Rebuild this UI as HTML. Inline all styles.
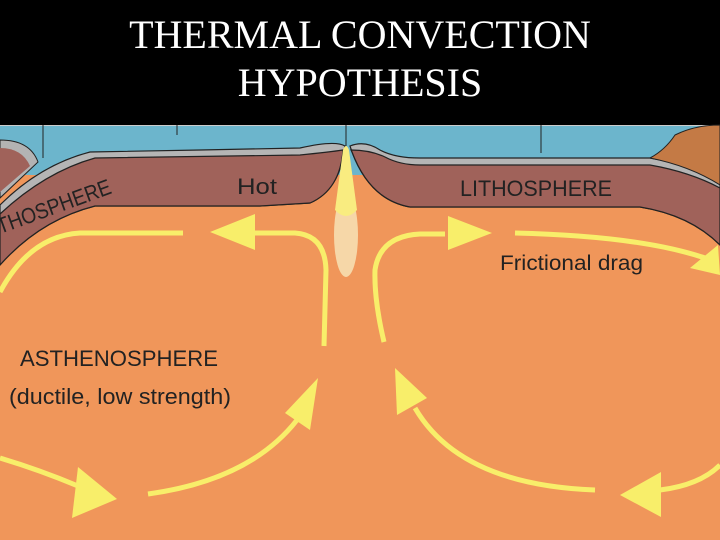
<!DOCTYPE html>
<html><head><style>
html,body{margin:0;padding:0;background:#000;}
svg{display:block;}
</style></head><body>
<svg width="720" height="540" viewBox="0 0 720 540" xmlns="http://www.w3.org/2000/svg">
<rect width="720" height="540" fill="#f0965a"/>
<rect width="720" height="125" fill="#000"/>
<text x="360" y="48" font-family="Liberation Serif, serif" font-size="40" fill="#fff" text-anchor="middle">THERMAL CONVECTION</text>
<text x="360" y="96" font-family="Liberation Serif, serif" font-size="40" fill="#fff" text-anchor="middle">HYPOTHESIS</text>
<!-- water -->
<rect x="0" y="125" width="720" height="50" fill="#6cb5cc"/>
<line x1="0" y1="125.5" x2="720" y2="125.5" stroke="#ccc" stroke-width="1"/>
<!-- left small plate -->
<path d="M0,140 Q30,140 38,162 L0,198 Z" fill="#b3b3b3" stroke="#222" stroke-width="1"/>
<path d="M0,148 Q22,148 30,166 L0,192 Z" fill="#a0625a"/>
<!-- left lithosphere -->
<path d="M0,205 Q40,165 90,152 L200,150 L300,148 Q335,140 345,146 Q340,190 310,203 L260,206 L95,206 Q40,220 0,265 Z" fill="#b5b5b5" stroke="#222" stroke-width="1.2"/>
<path d="M0,214 Q45,172 95,158 L300,155 Q330,152 343,150 Q340,190 310,203 L260,206 L95,206 Q40,220 0,265 Z" fill="#a0625a" stroke="#222" stroke-width="1.2"/>
<!-- right lithosphere -->
<path d="M350,146 Q365,140 380,150 Q395,158 420,158 L650,158 Q690,165 720,180 L720,245 Q690,215 640,207 L410,207 Q370,200 352,152 Z" fill="#b5b5b5" stroke="#222" stroke-width="1.2"/>
<path d="M351,150 Q370,150 385,157 Q400,165 420,165 L650,165 Q690,172 720,188 L720,245 Q690,215 640,207 L410,207 Q370,200 352,152 Z" fill="#a0625a" stroke="#222" stroke-width="1.2"/>
<!-- continent right -->
<path d="M650,158 Q665,150 675,135 Q695,125 720,125 L720,185 Q690,166 650,158 Z" fill="#c47a45" stroke="#222" stroke-width="1"/>
<!-- plume -->
<ellipse cx="346" cy="235" rx="12" ry="42" fill="#f6d7a8"/>
<path d="M343,150 Q346,142 349,150 L357,210 Q346,222 335,210 Z" fill="#f9ec80"/>
<!-- vertical lines -->
<g stroke="#222" stroke-width="1">
<line x1="43" y1="125" x2="43" y2="158"/><line x1="177" y1="125" x2="177" y2="135"/>
<line x1="346" y1="125" x2="346" y2="146"/><line x1="541" y1="125" x2="541" y2="153"/>
</g>
<!-- labels -->
<g font-family="Liberation Sans, sans-serif" fill="#222">
<text x="237" y="194" font-size="22" textLength="40" lengthAdjust="spacingAndGlyphs">Hot</text>
<text x="460" y="196" font-size="22" textLength="152" lengthAdjust="spacingAndGlyphs">LITHOSPHERE</text>
<text x="0" y="234" font-size="22" transform="rotate(-20 0 234)" textLength="120" lengthAdjust="spacingAndGlyphs">THOSPHERE</text>
<text x="500" y="270" font-size="21" textLength="143" lengthAdjust="spacingAndGlyphs">Frictional drag</text>
<text x="20" y="366" font-size="22" textLength="198" lengthAdjust="spacingAndGlyphs">ASTHENOSPHERE</text>
<text x="9" y="404" font-size="22" textLength="222" lengthAdjust="spacingAndGlyphs">(ductile, low strength)</text>
</g>
<!-- arrows -->
<g stroke="#f8ee6a" stroke-width="5" fill="none">
<path d="M0,292 Q30,236 80,233 L183,233"/>
<path d="M255,233 L295,233 Q325,235 326,270 L324,346"/>
<path d="M384,342 Q374,300 375,270 Q380,236 420,234 L445,234"/>
<path d="M515,233 Q640,236 705,258"/>
<path d="M0,458 Q40,470 78,486"/>
<path d="M148,494 Q250,480 297,420"/>
<path d="M415,408 Q460,485 595,490"/>
<path d="M660,490 Q700,485 720,465"/>
</g>
<g fill="#f8ee6a">
<polygon points="210,232 255,214 255,250"/>
<polygon points="492,233 448,216 448,250"/>
<polygon points="720,275 690,268 718,245"/>
<polygon points="117,499 78,467 72,518"/>
<polygon points="318,378 285,413 310,430"/>
<polygon points="395,368 397,415 427,398"/>
<polygon points="620,495 661,472 661,517"/>
</g>
</svg>
</body></html>
